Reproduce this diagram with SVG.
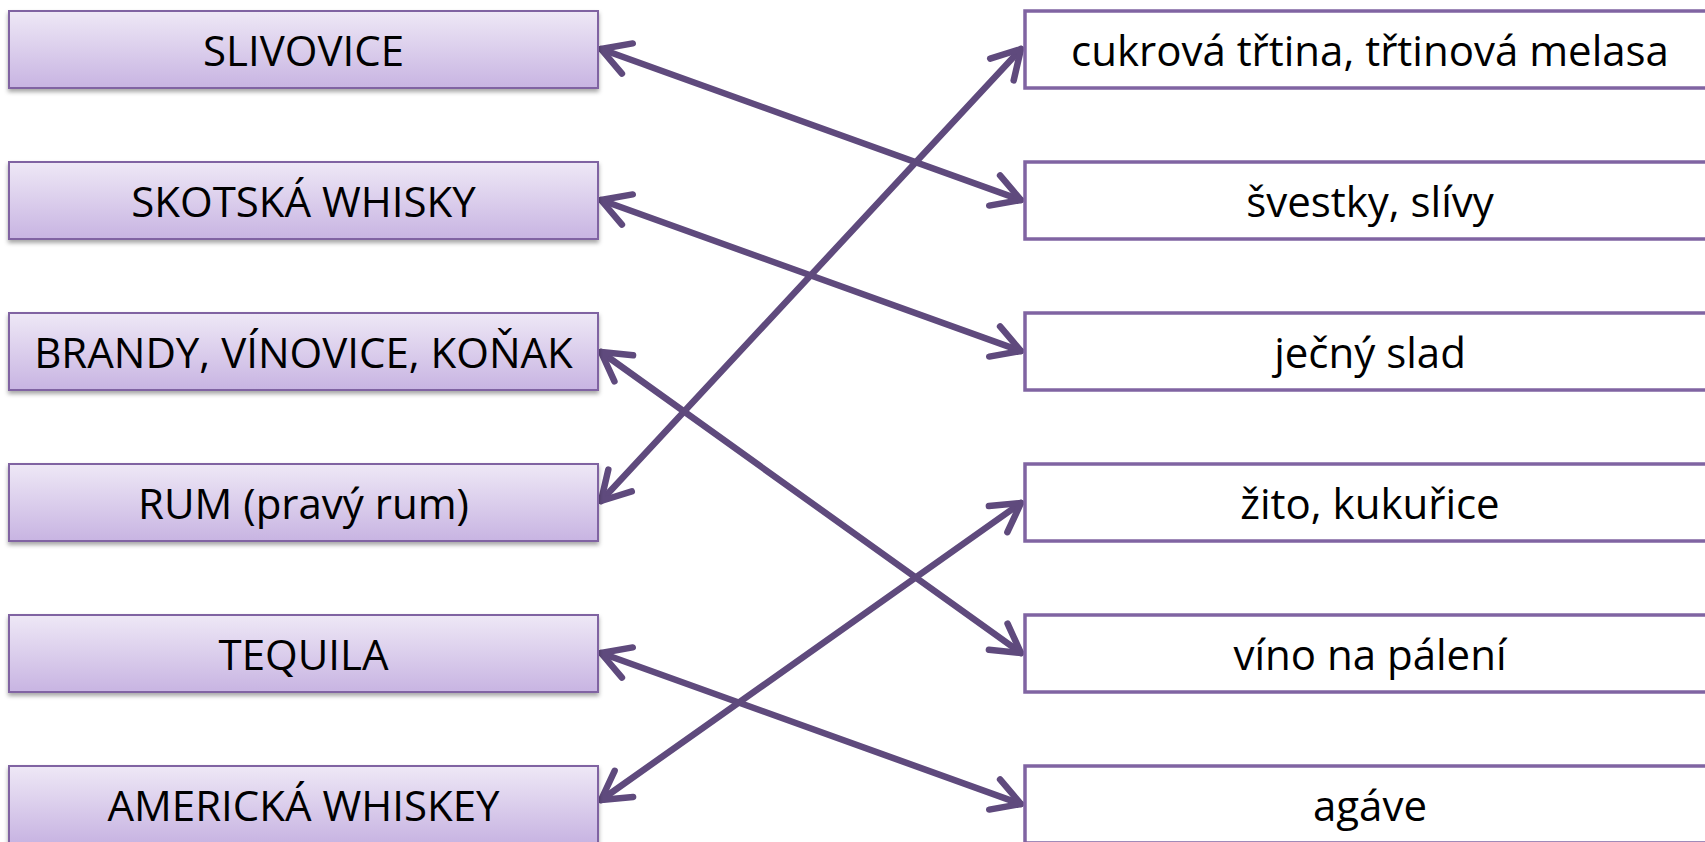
<svg xmlns="http://www.w3.org/2000/svg" width="1705" height="842" viewBox="0 0 1705 842">
<defs>
<linearGradient id="lg" x1="0" y1="0" x2="0" y2="1">
<stop offset="0" stop-color="#eee8f6"/>
<stop offset="1" stop-color="#c8b4e2"/>
</linearGradient>
<filter id="sh" x="-5%" y="-10%" width="110%" height="130%">
<feDropShadow dx="0" dy="3" stdDeviation="2" flood-color="#000" flood-opacity="0.35"/>
</filter>
<marker id="ah" markerUnits="userSpaceOnUse" viewBox="-40 -25 50 50" refX="0" refY="0" markerWidth="50" markerHeight="50" orient="auto-start-reverse">
<path d="M-28,-16 L0,0 L-28,16" fill="none" stroke="#5f4a7d" stroke-width="6.5" stroke-linecap="round" stroke-linejoin="round"/>
</marker>
<style>
.lb{fill:url(#lg);stroke:#8064a2;stroke-width:2;filter:url(#sh)}
.rb{fill:#fff;stroke:#8064a2;stroke-width:3.5}
.t{font-family:"Open Sans","Liberation Sans",sans-serif;font-size:42px;fill:#000;text-anchor:middle}
.c{fill:none;stroke:#5f4a7d;stroke-width:6.5;stroke-linecap:round;marker-start:url(#ah);marker-end:url(#ah)}
</style>
</defs>
<g id="connectors">
<line class="c" x1="601" y1="49" x2="1021" y2="200"/>
<line class="c" x1="601" y1="200" x2="1021" y2="351"/>
<line class="c" x1="601" y1="352" x2="1021" y2="653"/>
<line class="c" x1="601" y1="501" x2="1021" y2="49"/>
<line class="c" x1="601" y1="653" x2="1021" y2="804"/>
<line class="c" x1="601" y1="800" x2="1021" y2="503"/>
</g>
<g id="l1"><rect class="lb" x="9" y="11" width="589" height="77"/><text class="t" x="303.5" y="66">SLIVOVICE</text></g>
<g id="l2"><rect class="lb" x="9" y="162" width="589" height="77"/><text class="t" x="303.5" y="217">SKOTSKÁ WHISKY</text></g>
<g id="l3"><rect class="lb" x="9" y="313" width="589" height="77"/><text class="t" x="303.5" y="368">BRANDY, VÍNOVICE, KOŇAK</text></g>
<g id="l4"><rect class="lb" x="9" y="464" width="589" height="77"/><text class="t" x="303.5" y="519">RUM (pravý rum)</text></g>
<g id="l5"><rect class="lb" x="9" y="615" width="589" height="77"/><text class="t" x="303.5" y="670">TEQUILA</text></g>
<g id="l6"><rect class="lb" x="9" y="766" width="589" height="77"/><text class="t" x="303.5" y="821">AMERICKÁ WHISKEY</text></g>
<g id="r1"><rect class="rb" x="1025" y="11" width="700" height="77"/><text class="t" x="1370" y="66">cukrová třtina, třtinová melasa</text></g>
<g id="r2"><rect class="rb" x="1025" y="162" width="700" height="77"/><text class="t" x="1370" y="217">švestky, slívy</text></g>
<g id="r3"><rect class="rb" x="1025" y="313" width="700" height="77"/><text class="t" x="1370" y="368">ječný slad</text></g>
<g id="r4"><rect class="rb" x="1025" y="464" width="700" height="77"/><text class="t" x="1370" y="519">žito, kukuřice</text></g>
<g id="r5"><rect class="rb" x="1025" y="615" width="700" height="77"/><text class="t" x="1370" y="670">víno na pálení</text></g>
<g id="r6"><rect class="rb" x="1025" y="766" width="700" height="77"/><text class="t" x="1370" y="821">agáve</text></g>
</svg>
